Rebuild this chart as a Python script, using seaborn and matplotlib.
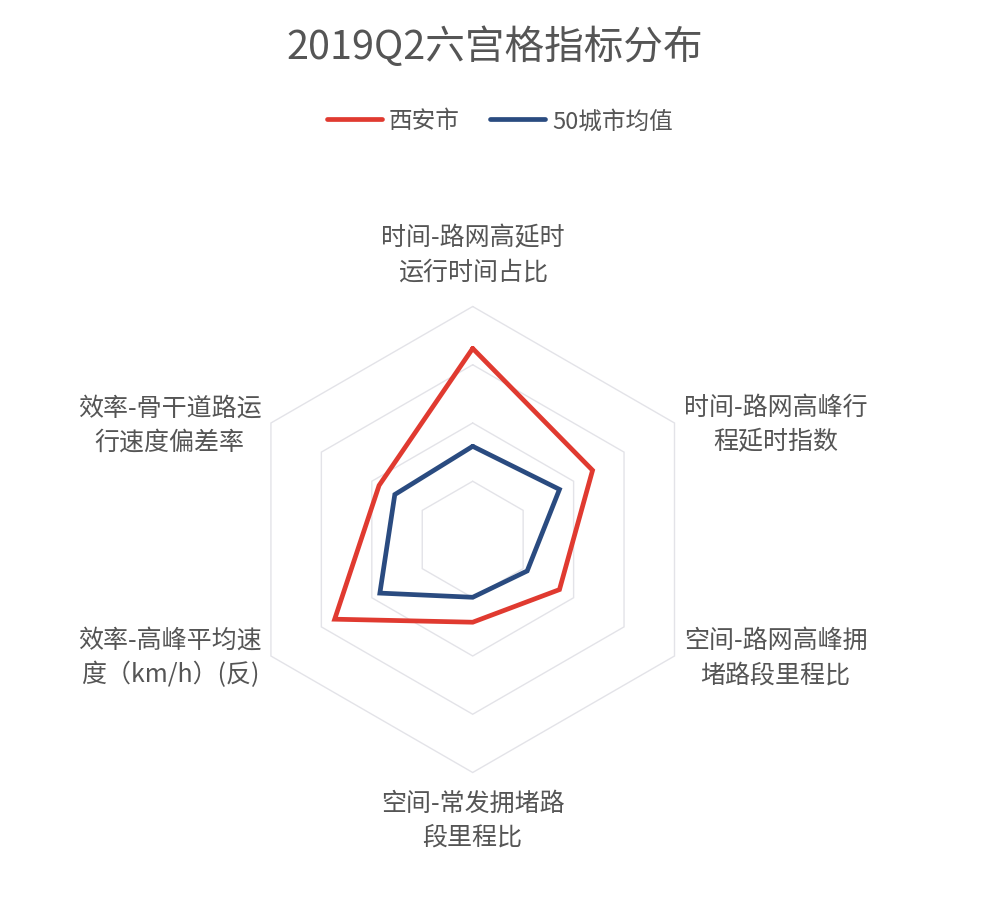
import numpy as np
import pandas as pd
import seaborn as sns
import matplotlib.pyplot as plt

# indicators, clockwise from the top
indicators = ['时间-路网高延时\n运行时间占比',
              '时间-路网高峰行\n程延时指数',
              '空间-路网高峰拥\n堵路段里程比',
              '空间-常发拥堵路\n段里程比',
              '效率-高峰平均速\n度（km/h）(反)',
              '效率-骨干道路运\n行速度偏差率']
xian = [0.82, 0.594, 0.43, 0.355, 0.684, 0.464]
avg50 = [0.40, 0.43, 0.27, 0.248, 0.46, 0.386]
series_names = ['西安市', '50城市均值']
colors = ['#e03a30', '#2a4b80']
rings = [0.25, 0.5, 0.75, 1.0]

sns.set_theme(style='white')
plt.rcParams['font.family'] = ['Noto Sans CJK SC', 'DejaVu Sans']
text_color = '#555555'

angles = np.deg2rad(90 - 60 * np.arange(len(indicators)))

rows = []
for name, vals in zip(series_names, [xian, avg50]):
    for i in list(range(len(vals))) + [0]:
        rows.append({'城市': name, 'order': len(rows),
                     'x': vals[i] * np.cos(angles[i]),
                     'y': vals[i] * np.sin(angles[i])})
df = pd.DataFrame(rows)

fig = plt.figure(figsize=(9.9, 9.12), dpi=100)
lim = 300 / 233
ax = fig.add_axes([172.7 / 990, (371.5 - 300) / 912, 600 / 990, 600 / 912])

# hexagon grid
ring_angles = np.append(angles, angles[0])
for r in rings:
    ax.plot(r * np.cos(ring_angles), r * np.sin(ring_angles),
            color='#e3e3e8', lw=1.0, zorder=1)

sns.lineplot(data=df, x='x', y='y', hue='城市', sort=False, estimator=None,
             palette=colors, linewidth=3.4, ax=ax, zorder=3)
for ln in ax.get_lines():
    ln.set_solid_joinstyle('miter')

ax.set_xlim(-lim, lim)
ax.set_ylim(-lim, lim)
ax.axis('off')

# axis names
for lab, a in zip(indicators, angles):
    cx, cy = np.cos(a), np.sin(a)
    if abs(cx) < 0.1:
        ha = 'center'
        va = 'bottom' if cy > 0 else 'top'
        pos = (cx, cy + (0.095 if cy > 0 else -0.075))
    else:
        ha = 'left' if cx > 0 else 'right'
        va = 'center'
        pos = (cx + (0.04 if cx > 0 else -0.04), cy - 0.005)
    ax.text(pos[0], pos[1], lab, ha=ha, va=va, multialignment='center',
            fontsize=18, color=text_color, linespacing=1.4)

h, l = ax.get_legend_handles_labels()
ax.get_legend().remove()
for hh in h:
    hh.set_solid_capstyle('round')
fig.legend(h, l, loc='center', bbox_to_anchor=(500 / 990, 1 - 122 / 912),
           ncol=2, frameon=False, fontsize=17, handlelength=2.3,
           handletextpad=0.3, columnspacing=1.3, labelcolor=text_color)

fig.text(495 / 990, 1 - 48 / 912, '2019Q2六宫格指标分布', ha='center', va='center',
         fontsize=28.5, color=text_color)

fig.savefig('out.png', dpi=100, facecolor='white')
